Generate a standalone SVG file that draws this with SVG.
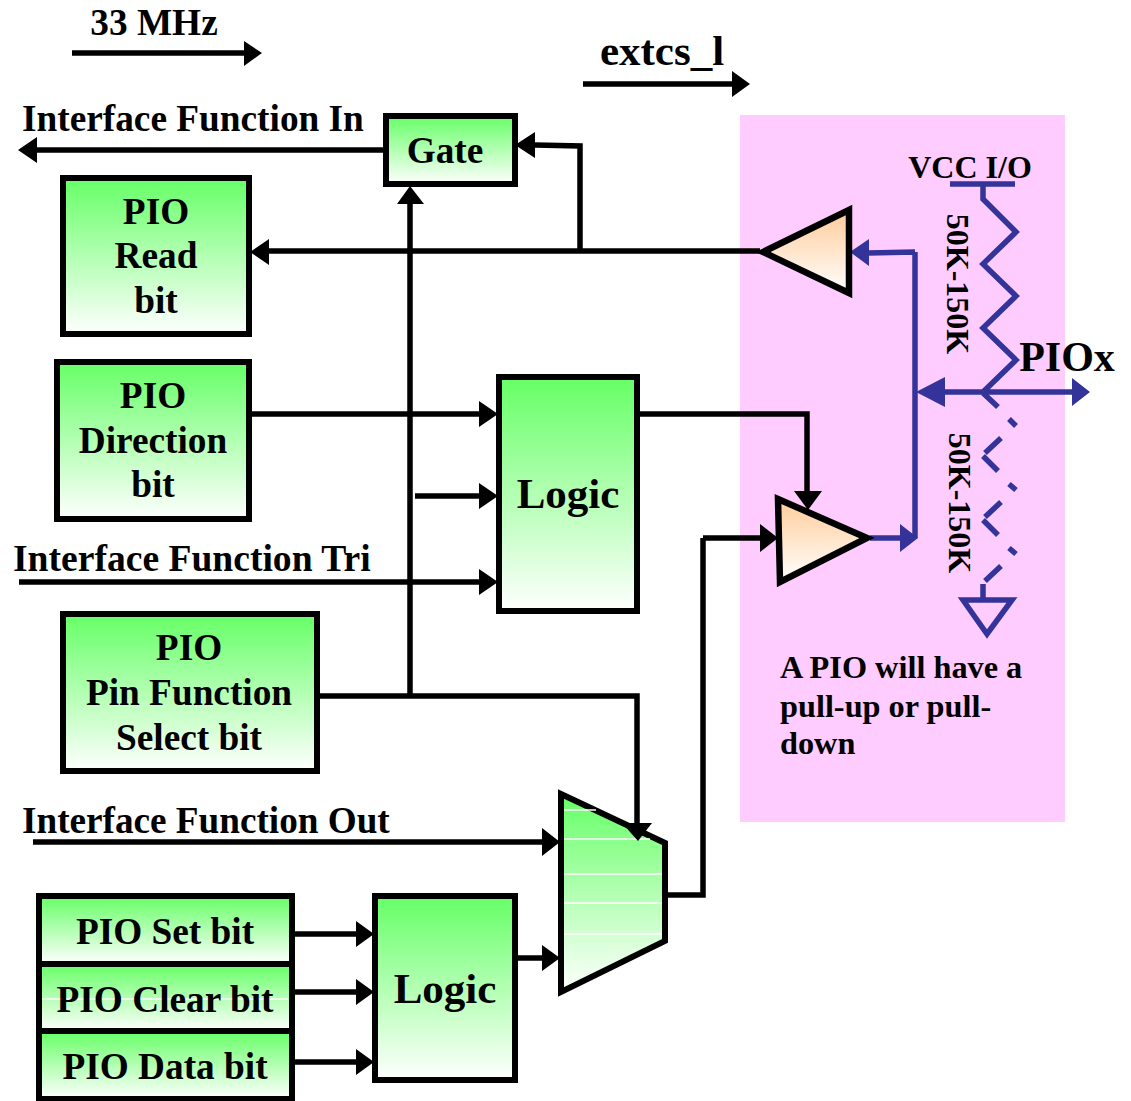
<svg xmlns="http://www.w3.org/2000/svg" width="1131" height="1101" viewBox="0 0 1131 1101">
<style>
text{font-family:"Liberation Serif","Times New Roman",serif;font-weight:bold;fill:#000;text-anchor:middle;font-size:37.3px}
.l{text-anchor:start}
.box{fill:url(#g);stroke:#000;stroke-width:6}
.amp{fill:url(#o);stroke:#000;stroke-width:6.5}
.k{fill:none;stroke:#000;stroke-width:5.5}
.b{fill:none;stroke:#333399;stroke-width:5.5}
.ah{fill:#000}
.bh{fill:#333399}
.w{stroke:#fff;stroke-width:1.5;fill:none}
</style>
<defs>
<linearGradient id="g" x1="0" y1="0" x2="0" y2="1"><stop offset="0" stop-color="#66ff66"/><stop offset="1" stop-color="#fff"/></linearGradient>
<linearGradient id="o" x1="0" y1="0" x2="0" y2="1"><stop offset="0" stop-color="#ffcc99"/><stop offset="1" stop-color="#fff"/></linearGradient>
</defs>
<rect id="pio-region" x="740" y="115" width="325" height="707" fill="#ffccff"/>
<g id="connectors">
<path class="k" d="M72 53H245M583 84H733M383 150H35M580 251V146L535 145M760 251H268M410 695V203M251 414H480M640 414H807V492M415 496H480M19 582H480M319 696H637V824M33 842H543M703 538V895H665M703 538H760M294 934H357M294 992H357M294 1062H357M517 958H543"/>
<path class="ah" d="M262 53L244 41V66ZM750 84L732 71V97ZM18 150L37 137V163ZM515 145L535 132V158ZM250 252L269 239V265ZM410 186L397 204H424ZM498 414L479 401V427ZM498 496L479 483V509ZM498 582L479 569V595ZM808 510L794 491H822ZM778 538L760 524V552ZM560 842L542 828V856ZM560 958L542 945V971ZM374 934L356 921V947ZM374 992L356 979V1005ZM374 1062L356 1049V1075Z"/>
<path class="b" d="M915 252V538M870 538H900M868 253L915 252M935 392H1072M950 184H1015M983 184V199L1016 232L983 264L1016 296L983 328L1016 360L983 392"/>
<path class="b" d="M983 393L998 407M1009 419L1016 426M1001 438L985 453M983 456L998 471M1009 484L1016 490M1001 502L985 517M983 520L998 535M1009 548L1016 554M1001 566L985 581"/>
<path class="b" d="M983 584V600M963 600H1012L987 634Z"/>
<path class="bh" d="M850 252L869 239V266ZM918 538L900 524V552ZM916 392L945 377V407ZM1090 392L1072 378V406Z"/>
</g>
<g id="gate"><rect class="box" x="386" y="116" width="129" height="68"/><text x="445" y="163">Gate</text></g>
<g id="read"><rect class="box" x="63" y="178" width="186" height="156"/><text x="156" y="224">PIO</text><text x="156" y="268">Read</text><text x="156" y="313">bit</text></g>
<g id="direction"><rect class="box" x="57" y="362" width="192" height="157"/><text x="153" y="408">PIO</text><text x="153" y="453">Direction</text><text x="153" y="497">bit</text></g>
<g id="logic1"><rect class="box" x="499" y="377" width="138" height="234"/><text x="568" y="508" style="font-size:43px">Logic</text></g>
<g id="select"><rect class="box" x="63" y="614" width="254" height="157"/><text x="189" y="660">PIO</text><text x="189" y="705">Pin Function</text><text x="189" y="750">Select bit</text></g>
<g id="set"><rect class="box" x="39" y="896" width="253" height="68"/><text x="165" y="944">PIO Set bit</text></g>
<g id="clear"><rect class="box" x="39" y="964" width="253" height="67"/><path class="w" d="M42 999H288"/><text x="165" y="1012">PIO Clear bit</text></g>
<g id="data"><rect class="box" x="39" y="1031" width="253" height="68"/><text x="165" y="1079">PIO Data bit</text></g>
<g id="logic2"><rect class="box" x="375" y="896" width="140" height="184"/><text x="445" y="1003" style="font-size:43px">Logic</text></g>
<g id="mux"><path d="M561 794L665 843V941L561 992Z" fill="url(#g)" stroke="#000" stroke-width="6"/><path class="w" d="M564 810H596M564 839H650M564 874H662M564 903H662M564 934H662"/><path class="ah" d="M622 823H652L638 841L630 832Z"/></g>
<g id="amp-in"><path class="amp" d="M849 210V293L763 252Z"/></g>
<g id="amp-out"><path class="amp" d="M778 499L867 538L780 582Z"/></g>
<g id="labels">
<text x="154" y="35">33 MHz</text>
<text x="662" y="65" style="font-size:43px">extcs_l</text>
<text class="l" x="22" y="131">Interface Function In</text>
<text class="l" x="13" y="571" style="font-size:37.6px">Interface Function Tri</text>
<text class="l" x="22" y="833" style="font-size:37.2px">Interface Function Out</text>
<text x="970" y="178" style="font-size:32px">VCC I/O</text>
<text x="1067" y="371" style="font-size:42px">PIOx</text>
<text transform="translate(947 284) rotate(90)" style="font-size:32px">50K-150K</text>
<text transform="translate(949 503) rotate(90)" style="font-size:32px">50K-150K</text>
<text class="l" x="780" y="678" style="font-size:32.3px">A PIO will have a</text>
<text class="l" x="780" y="717" style="font-size:32.3px">pull-up or pull-</text>
<text class="l" x="780" y="754" style="font-size:32.3px">down</text>
</g>
</svg>
